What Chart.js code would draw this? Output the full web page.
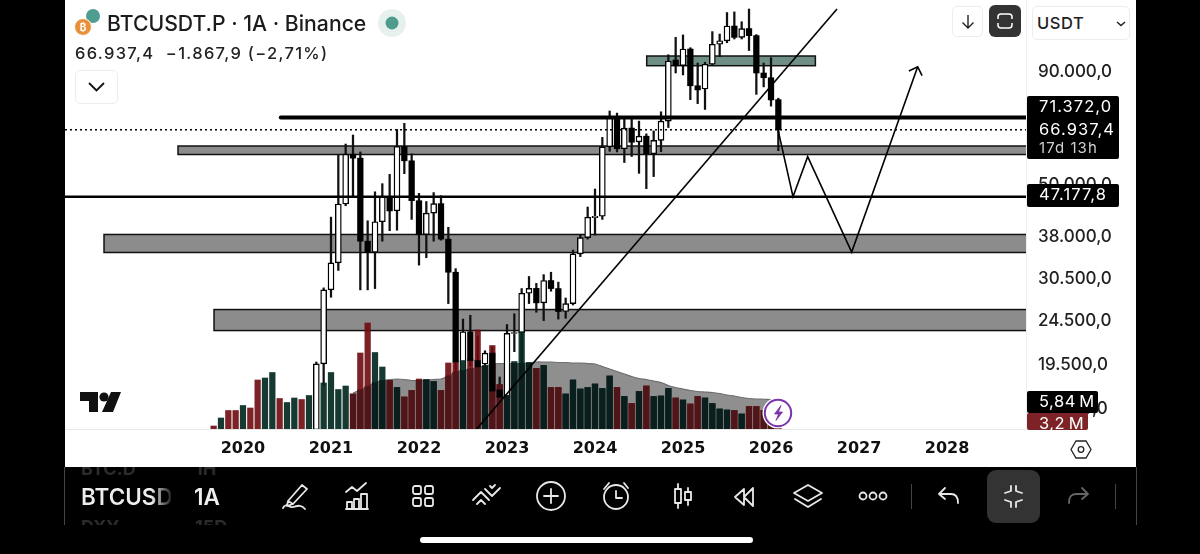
<!DOCTYPE html>
<html>
<head>
<meta charset="utf-8">
<title>BTCUSDT.P</title>
<script src="https://cdn.jsdelivr.net/npm/chart.js@4/dist/chart.umd.min.js"></script>
<style>
  html, body { margin: 0; padding: 0; background: #000; }
  body { position: relative; width: 1200px; height: 554px; overflow: hidden; font-family: Inter, sans-serif; }
  #card { position: absolute; left: 65px; top: 0; width: 1071px; height: 467px; background: #fff; }
  #chart { position: absolute; left: 65px; top: 0; }
  .abs { position: absolute; white-space: nowrap; }
  .badge { position: absolute; left: 1027px; background: #000; color: #fff; font-size: 16.5px; letter-spacing: 1.05px; border-radius: 2px; }
  .badge span { position: absolute; left: 12px; white-space: nowrap; }
  .btn { position: absolute; box-sizing: border-box; background: #fff; border: 1px solid #ececec; border-radius: 5px; }
  .icon { position: absolute; fill: none; stroke: #e8e8e8; stroke-width: 1.8; stroke-linecap: round; stroke-linejoin: round; }
</style>
</head>
<body>
<div id="card"></div>
<canvas id="chart" width="1071" height="467"></canvas>

<!-- header -->
<svg class="abs" style="left:74px;top:8px" width="34" height="32">
  <circle cx="19" cy="8" r="7" fill="#4f9c90"/>
  <circle cx="9" cy="19" r="8.5" fill="#e8903a" stroke="#fff" stroke-width="1"/>
  <text x="9" y="23" font-size="10" font-weight="700" fill="#fff" text-anchor="middle">₿</text>
</svg>
<div class="abs" style="left:107px;top:10px;font-size:21.2px;font-weight:500;color:#1b1b1b">BTCUSDT.P · 1A · Binance</div>
<svg class="abs" style="left:377px;top:9px" width="30" height="30">
  <circle cx="15" cy="14" r="14" fill="#e6f1ee"/>
  <circle cx="15" cy="14" r="6.5" fill="#4f9c8c"/>
</svg>
<div class="abs" style="left:75px;top:43px;font-size:16.5px;font-weight:500;letter-spacing:1.3px;color:#222">66.937,4 &nbsp;−1.867,9 (−2,71%)</div>
<div class="btn" style="left:75px;top:70px;width:43px;height:34px"></div>
<svg class="abs" style="left:87px;top:81px" width="20" height="12"><path d="M2 2l7.5 7.5L17 2" fill="none" stroke="#111" stroke-width="1.8"/></svg>

<!-- top right buttons -->
<div class="btn" style="left:952px;top:6px;width:31px;height:31px"></div>
<svg class="abs" style="left:960px;top:13px" width="16" height="18"><path d="M8 2v13M2.5 9.5L8 15l5.5-5.5" fill="none" stroke="#222" stroke-width="1.4"/></svg>
<div class="abs" style="left:989px;top:5px;width:32px;height:32px;background:#333;border-radius:6px"></div>
<svg class="abs" style="left:996px;top:12px" width="18" height="18"><path d="M2 7V5a3 3 0 0 1 3-3h8a3 3 0 0 1 3 3v2M2 11v2a3 3 0 0 0 3 3h8a3 3 0 0 0 3-3v-2" fill="none" stroke="#fff" stroke-width="1.5"/></svg>
<div class="btn" style="left:1032px;top:6px;width:98px;height:34px"></div>
<div class="abs" style="left:1037px;top:13px;font-size:16.5px;font-weight:500;letter-spacing:.6px;color:#222">USDT</div>
<svg class="abs" style="left:1115px;top:20px" width="12" height="8"><path d="M2 2l4 3.5L10 2" fill="none" stroke="#222" stroke-width="1.5"/></svg>

<!-- price badges -->
<div class="badge" style="top:96px;width:92px;height:63px">
  <span style="top:0px">71.372,0</span>
  <span style="top:23px">66.937,4</span>
  <span style="top:42px;font-size:15px;color:#cfcfcf">17d 13h</span>
</div>
<div class="badge" style="top:184px;width:92px;height:23px"><span style="top:0px">47.177,8</span></div>
<div class="badge" style="top:413px;width:61px;height:17px;background:#7d2327;overflow:hidden"><span style="top:0px;letter-spacing:.5px">3,2&#8201;M</span></div>
<div class="badge" style="top:391px;width:71px;height:22px"><span style="top:0px;letter-spacing:.5px">5,84&#8201;M</span></div>

<!-- TradingView mark and bolt -->
<svg class="abs" style="left:80px;top:392px" width="42" height="20">
  <path d="M0 0h18v20H9V9H0z" fill="#111"/>
  <circle cx="24" cy="5" r="4.6" fill="#111"/>
  <path d="M31 0h10l-8 20H22z" fill="#111"/>
</svg>
<svg class="abs" style="left:762px;top:397px" width="32" height="32">
  <circle cx="16" cy="16" r="15.5" fill="#fff"/>
  <circle cx="16" cy="16" r="13.2" fill="#fff" stroke="#7a35ad" stroke-width="2"/>
  <path d="M19 8.5l-6.5 8.5h4l-2.5 6.5 6.5-8.5h-4z" fill="#7a35ad" stroke="#7a35ad" stroke-width=".8"/>
</svg>
<svg class="abs" style="left:1070px;top:439px" width="22" height="21">
  <path d="M6 2h10l5 8.5-5 8.5H6L1 10.500z" fill="none" stroke="#222" stroke-width="1.3"/>
  <circle cx="11" cy="10.500" r="2.800" fill="none" stroke="#222" stroke-width="1.3"/>
</svg>

<!-- bottom toolbar -->
<div class="abs" style="left:64px;top:467px;width:1px;height:58px;background:#444"></div>
<div class="abs" style="left:1136px;top:467px;width:1px;height:58px;background:#444"></div>
<div class="abs" style="left:81px;top:458px;font-size:18px;font-weight:700;color:#2b2b2b;clip-path:inset(9px 0 0 0)">BTC.D</div>
<div class="abs" style="left:195px;top:458px;font-size:18px;font-weight:700;color:#2b2b2b;clip-path:inset(9px 0 0 0)">1H</div>
<div class="abs" style="left:81px;top:516px;font-size:18px;font-weight:700;color:#2b2b2b;height:9px;overflow:hidden">DXY</div>
<div class="abs" style="left:195px;top:516px;font-size:18px;font-weight:700;color:#2b2b2b;height:9px;overflow:hidden">15D</div>
<div class="abs" style="left:81px;top:483px;width:90px;overflow:hidden;font-size:22.5px;font-weight:600;background:linear-gradient(90deg,#eee 78%,#222 100%);-webkit-background-clip:text;color:transparent">BTCUSDT.P</div>
<div class="abs" style="left:194px;top:483px;font-size:22.5px;font-weight:600;color:#eee">1A</div>

<svg class="icon" style="left:280px;top:481px" width="32" height="32"><path d="M8 20L22 4l5 4-14 15-6 2zM8 20l5 3M3 27c3-6 6 0 10-1s8-3 12 2"/></svg>
<svg class="icon" style="left:344px;top:481px" width="30" height="30"><path d="M2 11l6-5 5 4 9-8M3 28v-7h5v7zM10 28v-10h5v10zM17 28V13h6v15zM2 28h22"/></svg>
<svg class="icon" style="left:409px;top:482px" width="28" height="28"><rect x="4" y="4" width="8" height="8" rx="2"/><rect x="16" y="4" width="8" height="8" rx="2"/><rect x="4" y="16" width="8" height="8" rx="2"/><rect x="16" y="16" width="8" height="8" rx="2"/></svg>
<svg class="icon" style="left:471px;top:483px" width="32" height="26"><path d="M2 17l8-8 8 8M6 21l4-4 4 4M14 6l7 7 8-8M19 3l2 2 3-3"/></svg>
<svg class="icon" style="left:536px;top:481px" width="30" height="30"><circle cx="15" cy="15" r="14"/><path d="M15 8v14M8 15h14"/></svg>
<svg class="icon" style="left:600px;top:480px" width="32" height="32"><circle cx="16" cy="17" r="12"/><path d="M16 11v7h6M4 9l5-6M24 3l4 5"/></svg>
<svg class="icon" style="left:672px;top:482px" width="22" height="28"><path d="M6 2v24M16 6v17"/><rect x="3" y="7" width="6" height="14" fill="#000"/><rect x="13" y="10" width="6" height="8" fill="#000"/></svg>
<svg class="icon" style="left:732px;top:483px" width="24" height="26"><path d="M12 6L3 14l9 8zM21 5l-9 9 9 9z"/></svg>
<svg class="icon" style="left:792px;top:482px" width="32" height="28"><path d="M16 3l14 8-14 8-14-8zM3 17l13 8 13-8"/></svg>
<svg class="icon" style="left:857px;top:489px" width="32" height="14"><circle cx="6" cy="7" r="3.500"/><circle cx="16" cy="7" r="3.500"/><circle cx="26" cy="7" r="3.500"/></svg>
<div class="abs" style="left:911px;top:484px;width:1px;height:25px;background:#444"></div>
<svg class="icon" style="left:937px;top:486px" width="24" height="20"><path d="M8 2L2 8l6 5M2 8h12c5 0 7 3 7 9"/></svg>
<div class="abs" style="left:987px;top:470px;width:53px;height:53px;background:#333;border-radius:9px"></div>
<svg class="icon" style="left:1001px;top:484px" width="25" height="25"><path d="M10 2v5l-6 2M15 2v5l6 2M10 23v-5l-6-2M15 23v-5l6-2"/></svg>
<svg class="icon" style="left:1066px;top:486px;stroke:#666" width="24" height="20"><path d="M16 2l6 6-6 5M22 8H10C5 8 3 11 3 17"/></svg>
<div class="abs" style="left:1115px;top:484px;width:1px;height:25px;background:#444"></div>
<div class="abs" style="left:420px;top:537px;width:333px;height:6px;border-radius:3px;background:#fff"></div>

<script>
// monthly bars, first one is Sep 2019
const startMonth = -4  // months counted from Jan 2020
const opens = [10170,8290,9150,7540,7190,9360,8520,6410,8620,9450,9140,11350,11650,10780,13800,19700,
  29000,33400,45400,58900,57700,37400,35300,41400,47100,43800,61300,56900,
  46200,38700,43300,45500,37800,31800,18900,23300,20050,19690,20850,17200,
  16550,23100,23200,28500,29230,27100,30450,29200,25900,27000,35000,38100,
  42300,42600,61200,71200,60600,67500,62800,64700,59000,63300,70000,96300,
  93500,102000,84200,82800,94200,104600,106500,115000,108400,113500,109400,90000,
  87800,78300]
const highs = [10350,10370,9500,7750,9580,10500,9190,9470,10070,10380,11450,12480,12090,14050,19900,29300,
  42400,58600,62100,65100,59600,41600,48400,50500,53000,67000,69200,59000,
  48000,46000,48200,47400,40200,32400,24900,25400,22800,21100,21500,18400,
  24200,25600,29200,31100,30000,31400,31800,30200,27800,35700,38700,44700,
  49100,64300,73800,73000,70700,71200,70000,65500,66500,73500,99000,108400,
  109800,102700,94800,95200,111700,110300,123400,123800,117600,125700,110000,94800,
  97500,78900]
const lows = [7730,7300,6520,6410,6850,8400,3620,6150,8100,8900,8900,10540,9810,10380,13200,17600,
  27900,32100,45000,47000,29000,29000,29200,37400,39500,39600,53200,41900,
  33000,34300,37400,37600,27000,17600,18800,19500,18100,18200,15500,16250,
  16500,21000,19500,27000,25800,24700,28800,24900,25000,26800,34500,37800,
  38600,41900,59800,59600,56400,58200,53300,49200,52400,59700,67700,90000,
  89100,78300,76700,74400,93800,98000,105400,107500,107500,101200,80500,83700,
  75700,60000]
const closes = [8290,9150,7540,7190,9360,8520,6410,8620,9450,9140,11350,11650,10780,13800,19700,29000,
  33400,45400,58900,57700,37400,35300,41400,47100,43800,61300,56900,46200,
  38700,43300,45500,37800,31800,19900,23300,20050,19400,20850,17100,16550,
  23100,23200,28500,29230,27100,30450,29200,25900,27000,35000,38100,42400,
  42600,61200,71200,60600,67500,62700,64700,59000,63300,70000,95800,93500,
  102000,84200,82400,94200,104600,106500,115000,108400,113500,109400,90000,87800,
  78200,66937.4]
// volume in millions
const volumes = [0.6,2.2,3.7,3.7,4.7,4.2,9.8,10.2,11.3,6.1,5.3,6.2,5.9,6.7,0,9.2,
  11.3,7.9,8.6,7.0,15.2,21.2,15.3,12.4,9.7,8.3,6.4,7.7,
  10.0,9.9,9.5,7.7,13.2,13.4,13.7,14.0,19.8,12.7,16.7,8.9,
  6.7,13.5,19.4,13.3,12.1,12.7,8.3,8.3,7.0,9.8,8.0,8.3,
  9.0,8.1,10.6,8.3,6.5,5.1,7.5,8.6,6.5,6.6,8.1,6.2,
  5.8,5.0,6.5,6.2,5.1,4.0,3.8,3.7,3.0,4.5,4.5,3.7,
  3.6,3.2]
// 20 month volume average, first value is Apr 2021
const volAvgFirst = 19
const volAvg = [7.2,7.8,8.5,9.3,9.7,9.9,10.0,9.9,9.7,
  9.7,9.8,9.9,10.0,10.6,11.4,11.7,12.0,12.3,12.6,13.0,13.1,
  13.1,13.1,13.1,13.2,13.4,13.4,13.4,13.3,13.3,13.2,13.2,13.1,
  13.0,12.5,12.0,11.5,11.0,10.5,10.1,9.9,9.6,9.3,8.7,8.3,
  8.0,7.7,7.5,7.4,7.3,7.1,6.8,6.6,6.3,6.1,6.0,5.95,
  5.9,5.84]

const yTickValues = [90000, 50000, 38000, 30500, 24500, 19500, 15500]
const yTickLabels = ["90.000,0", "50.000,0", "38.000,0", "30.500,0", "24.500,0", "19.500,0", "15.500,0"]
const yearTicks = [0, 12, 24, 36, 48, 60, 72, 84, 96]
const yearLabels = ["2020", "2021", "2022", "2023", "2024", "2025", "2026", "2027", "2028"]

// axis limits
const xMin = -24.27
const xMax = 106.77
const yMin = 14025
const yMax = 131760
const volMax = 85.8

// drawn price boxes
const zoneFrom = [55.05, -8.86, -18.95, -3.95]
const zoneTo = [78.05, xMax + 1, xMax + 1, xMax + 1]
const zoneHigh = [98350, 61470, 38730, 26170]
const zoneLow = [93490, 58800, 35250, 23450]

// drawn lines
const resistance = 71372
const resistanceFrom = 5.15
const support = 47177.8
const lastPrice = 66937.4
const trendMonths = [31.87, 81]
const trendPrices = [14025, 125700]
const pathMonths = [72.95, 75, 77, 83, 92]
const pathPrices = [66937.4, 47177.8, 58130, 35340, 93000]
const arrowMonths = [90.8, 92, 92.6]
const arrowPrices = [90940, 93000, 88740]

const months = opens.map((_, i) => startMonth + i)

const upBars = [], downBars = [], wicks = [], volBars = [], volColors = [], volDark = [], volDarkColors = []
months.forEach((m, i) => {
  wicks.push({ x: m, y: [lows[i], highs[i]] })
  if (closes[i] >= opens[i]) upBars.push({ x: m, y: [opens[i], closes[i]] })
  else downBars.push({ x: m, y: [closes[i], opens[i]] })

  const up = closes[i] >= opens[i]
  volBars.push({ x: m, y: volumes[i] })
  volColors.push(up ? "rgba(2,41,33,.92)" : "rgba(110,10,16,.9)")
  // part of the bar under the average gets darker
  const avg = volAvg[i - volAvgFirst]
  if (avg !== undefined) {
    volDark.push({ x: m, y: Math.min(volumes[i], avg) })
    volDarkColors.push(up ? "#0a1f1d" : "#4f1519")
  }
})

const avgPoints = volAvg.map((v, i) => ({ x: startMonth + volAvgFirst + i, y: v }))

function seg(xs, ys) {
  return xs.map((x, i) => ({ x: x, y: ys[i] }))
}

function drawnLine(xs, ys, width, extra) {
  return Object.assign({
    type: "line",
    data: seg(xs, ys),
    borderColor: "#000",
    borderWidth: width,
    pointRadius: 0,
    order: 10
  }, extra || {})
}

// boxes go under the candles
const zonePlugin = {
  id: "zones",
  beforeDatasetsDraw(chart) {
    const { ctx, chartArea, scales } = chart
    ctx.save()
    ctx.beginPath()
    ctx.rect(chartArea.left, chartArea.top, chartArea.width, chartArea.height)
    ctx.clip()
    zoneFrom.forEach((from, i) => {
      const x = scales.x.getPixelForValue(from)
      const y = scales.y.getPixelForValue(zoneHigh[i])
      const w = scales.x.getPixelForValue(zoneTo[i]) - x
      const h = scales.y.getPixelForValue(zoneLow[i]) - y
      ctx.fillStyle = i == 0 ? "#6f8f86" : "#8c8c8c"
      ctx.fillRect(x, y, w, h)
      ctx.strokeStyle = "#111"
      ctx.lineWidth = 1.5
      ctx.strokeRect(x, y, w, h)
    })
    ctx.restore()
  }
}

const tickFont = { family: "Inter", size: 17, weight: "500" }

new Chart(document.getElementById("chart"), {
  type: "bar",
  plugins: [zonePlugin],
  data: {
    datasets: [
      { type: "line", data: avgPoints, yAxisID: "v", borderColor: "#6e6e6e", borderWidth: 1.2, backgroundColor: "#8f8f8f",
        fill: "origin", pointRadius: 0, tension: 0.2, order: 90 },
      { data: wicks, barThickness: 1.6, backgroundColor: "#111", borderWidth: 0, grouped: false, order: 80 },
      { data: upBars, barThickness: 6, backgroundColor: "#fff", borderColor: "#000", borderWidth: 1.4, borderSkipped: false, grouped: false, order: 70 },
      { data: volBars, yAxisID: "v", barThickness: 5.6, backgroundColor: volColors, borderWidth: 0, grouped: false, order: 60 },
      { data: volDark, yAxisID: "v", barThickness: 5.6, backgroundColor: volDarkColors, borderWidth: 0, grouped: false, order: 50 },
      { data: downBars, barThickness: 5.6, backgroundColor: "#000", borderWidth: 0, grouped: false, order: 40 },
      drawnLine([xMin, xMax], [lastPrice, lastPrice], 1.4, { borderDash: [2, 3], order: 20 }),
      drawnLine([resistanceFrom, xMax + 1], [resistance, resistance], 4, { borderCapStyle: "round" }),
      drawnLine([xMin, xMax], [support, support], 2.6),
      drawnLine(trendMonths, trendPrices, 1.6),
      drawnLine(pathMonths, pathPrices, 1.6),
      drawnLine(arrowMonths, arrowPrices, 1.6)
    ]
  },
  options: {
    responsive: false,
    animation: false,
    layout: { padding: 0 },
    plugins: { legend: { display: false }, tooltip: { enabled: false } },
    scales: {
      x: {
        type: "linear",
        min: xMin,
        max: xMax,
        offset: false,
        grid: { display: false, drawTicks: false, offset: false },
        border: { color: "#e8e8e8" },
        afterBuildTicks: s => { s.ticks = yearTicks.map(v => ({ value: v })) },
        afterFit: s => { s.height = 38; s.paddingLeft = 0; s.paddingRight = 0 },
        ticks: {
          autoSkip: false,
          maxRotation: 0,
          padding: 10,
          color: "#111",
          font: { family: "DejaVu Sans", size: 16, weight: "700" },
          callback: v => yearLabels[yearTicks.indexOf(v)]
        }
      },
      y: {
        type: "logarithmic",
        position: "right",
        min: yMin,
        max: yMax,
        grid: { display: false, drawTicks: false },
        border: { color: "#efefef" },
        afterBuildTicks: s => { s.ticks = yTickValues.map(v => ({ value: v })) },
        afterFit: s => { s.width = 110; s.paddingTop = 0; s.paddingBottom = 0 },
        ticks: {
          autoSkip: false,
          padding: 12,
          labelOffset: -1,
          crossAlign: "near",
          color: "#222",
          font: tickFont,
          callback: v => yTickLabels[yTickValues.indexOf(v)]
        }
      },
      v: { type: "linear", display: false, min: 0, max: volMax }
    }
  }
})
</script>
</body>
</html>
